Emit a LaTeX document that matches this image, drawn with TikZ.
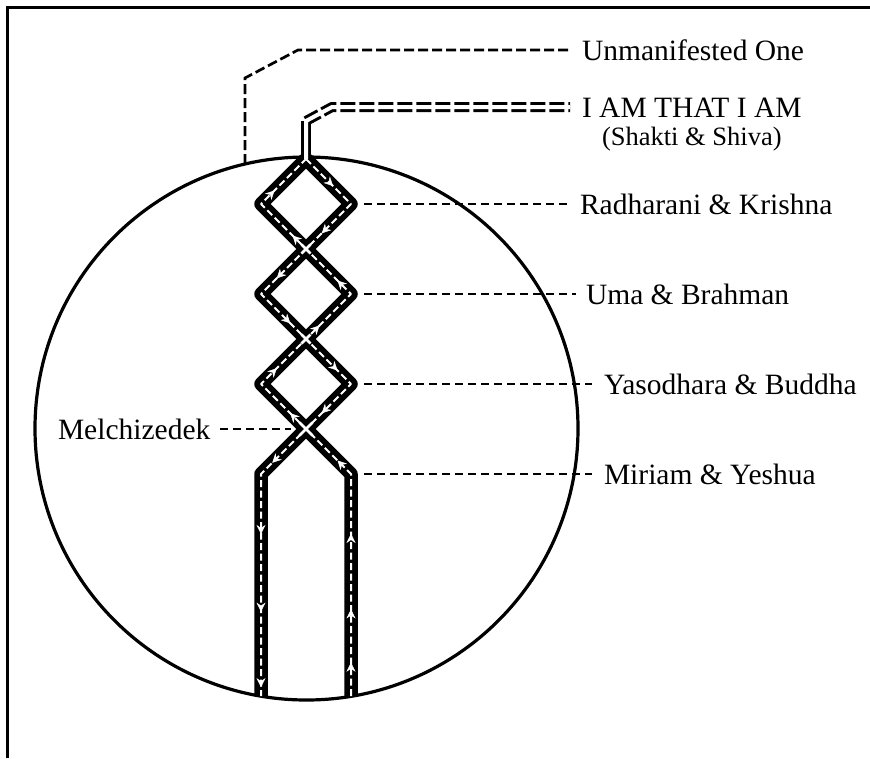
\documentclass[tikz,border=0pt]{standalone}
\usepackage{fontspec}
\setmainfont{Liberation Serif}
\usetikzlibrary{arrows.meta,decorations.markings}
\begin{document}
\begin{tikzpicture}[x=1pt,y=-1pt,
  frame/.style={line width=3pt},
  ring/.style={line width=3.2pt},
  band/.style={line width=13.5pt, line join=round, draw=black},
  core/.style={line width=2pt, draw=white, dash pattern=on 7pt off 3.5pt, line join=round},
  xmark/.style={line width=2.6pt, draw=white},
  leader/.style={line width=2.2pt, dash pattern=on 8pt off 5pt},
  topdash/.style={line width=2.7pt, dash pattern=on 10pt off 4pt, line join=miter},
  lbl/.style={font=\fontsize{29.5}{35}\selectfont, inner sep=0pt, outer sep=0pt, anchor=west, text height=20pt, text depth=0pt},
  sub/.style={font=\fontsize{26.5}{32}\selectfont, inner sep=0pt, anchor=base},
  arr/.style={postaction={decorate, decoration={markings, mark=at position #1 with {\arrow{Stealth[length=9pt,width=9pt,inset=3pt,color=white]}}}}},
]
\useasboundingbox (0,0) rectangle (870,758);
% frame
\draw[frame] (7.5,758) -- (7.5,7) -- (870,7);
% circle
\draw[ring] (306.5,428.5) circle (271.5);

% braid coordinates
\coordinate (T) at (306,159);
\coordinate (D1L) at (261,204); \coordinate (D1R) at (351,204);
\coordinate (X1) at (306,249);
\coordinate (D2L) at (261,294); \coordinate (D2R) at (351,294);
\coordinate (X2) at (306,339);
\coordinate (D3L) at (261,384); \coordinate (D3R) at (351,384);
\coordinate (X3) at (306,429);
\coordinate (BL) at (261,474); \coordinate (BR) at (351,474);
\coordinate (EL) at (261,696); \coordinate (ER) at (351,696);
\coordinate (S1) at (306,121); \coordinate (S2) at (332,107);
\coordinate (U0) at (245,164); \coordinate (U1) at (245,78); \coordinate (U2) at (298,50);

% labels
\node[lbl] (unm) at (582,50) {Unmanifested One};
\node[lbl] (iam) at (582,107) {I AM THAT I AM};
\node[sub] (shk) at ([yshift=-28pt]iam.base) {(Shakti \& Shiva)};
\node[lbl] (rad) at (580,204) {Radharani \& Krishna};
\node[lbl] (uma) at (586,294) {Uma \& Brahman};
\node[lbl] (yas) at (604,384) {Yasodhara \& Buddha};
\node[lbl] (mir) at (604,474) {Miriam \& Yeshua};
\node[lbl] (mel) at (58,429) {Melchizedek};

% leader start points
\coordinate (c1) at (364,204);
\coordinate (c2) at (364,294);
\coordinate (c3) at (364,384);
\coordinate (c4) at (364,474);
\coordinate (cm) at (291,429);

% Unmanifested line
\draw[topdash, shorten >=12pt] (U0) -- (U1) -- (U2) -- (unm);

% bands
\draw[band] (T) -- (D1R) -- (X1) -- (D2L) -- (X2) -- (D3R) -- (X3) -- (BL) -- (EL);
\draw[band] (ER) -- (BR) -- (X3) -- (D3L) -- (X2) -- (D2R) -- (X1) -- (D1L) -- (T);
\draw[core] (T) -- (D1R) -- (X1) -- (D2L) -- (X2) -- (D3R) -- (X3) -- (BL) -- (EL);
\draw[core] (ER) -- (BR) -- (X3) -- (D3L) -- (X2) -- (D2R) -- (X1) -- (D1L) -- (T);
% crossing marks
\foreach \c/\s in {X1/4.5, X2/4.5, X3/6.5}{
  \draw[xmark] ([shift={(-\s,-\s)}]\c) -- ([shift={(\s,\s)}]\c);
  \draw[xmark] ([shift={(-\s,\s)}]\c) -- ([shift={(\s,-\s)}]\c);
}

% arrows, downward strand
\path[arr=0.6] (T) -- (D1R);
\path[arr=0.65] (D1R) -- (X1);
\path[arr=0.65] (X1) -- (D2L);
\path[arr=0.65] (D2L) -- (X2);
\path[arr=0.7] (X2) -- (D3R);
\path[arr=0.65] (D3R) -- (X3);
\path[arr=0.75] (X3) -- (BL);
\path[arr=0.27, arr=0.62, arr=0.96] (BL) -- (EL);
% arrows, upward strand
\path[arr=0.15, arr=0.39, arr=0.73] (ER) -- (BR);
\path[arr=0.3] (BR) -- (X3);
\path[arr=0.35] (X3) -- (D3L);
\path[arr=0.35] (D3L) -- (X2);
\path[arr=0.3] (X2) -- (D2R);
\path[arr=0.3] (D2R) -- (X1);
\path[arr=0.3] (X1) -- (D1L);
\path[arr=0.3] (D1L) -- (T);

% stem to I AM THAT I AM
\draw[line width=10pt] (T) -- (S1);
\draw[line width=10pt, line join=miter, dash pattern=on 15pt off 4pt, shorten >=12pt] (S1) -- (S2) -- (iam);
\draw[line width=4pt, white, line join=miter, shorten >=12pt] (T) -- (S1) -- (S2) -- (iam);

% leaders
\draw[leader, shorten >=10pt] (c1) -- (rad);
\draw[leader, shorten >=10pt] (c2) -- (uma);
\draw[leader, shorten >=12pt] (c3) -- (yas);
\draw[leader, shorten >=12pt] (c4) -- (mir);
\draw[leader, shorten <=10pt] (mel) -- (cm);
\end{tikzpicture}
\end{document}
